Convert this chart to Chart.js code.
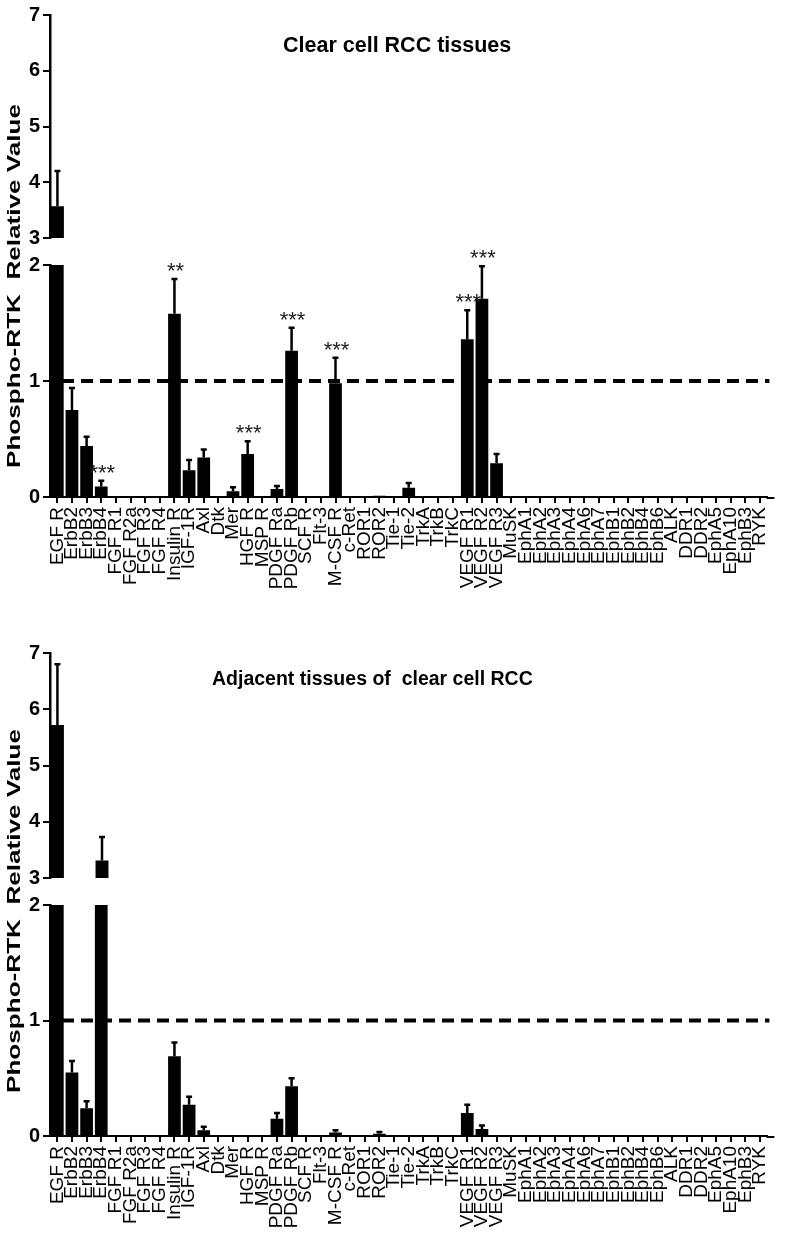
<!DOCTYPE html>
<html>
<head>
<meta charset="utf-8">
<script src="https://cdn.jsdelivr.net/npm/chart.js@4.4.1/dist/chart.umd.min.js"></script>
<style>
  html, body { margin: 0; padding: 0; background: #fff; }
  #page { position: relative; width: 787px; height: 1238px; overflow: hidden; }
  canvas { position: absolute; left: 0; }
  .title { position: absolute; font-family: 'Liberation Sans', Arial, sans-serif; font-weight: bold; color: #000; white-space: nowrap; line-height: 22px; }
  .ytitle { position: absolute; font: bold 18px 'Liberation Sans', Arial, sans-serif; color: #000; white-space: nowrap; line-height: 18px;
            transform: translate(-50%, -50%) rotate(-90deg) scaleX(1.45); }
</style>
</head>
<body>
<div id="page">
  <canvas id="c1top" width="787" height="253" style="top:0px"></canvas>
  <canvas id="c1bot" width="787" height="360" style="top:250px"></canvas>
  <canvas id="c2top" width="787" height="255" style="top:638px"></canvas>
  <canvas id="c2bot" width="787" height="348" style="top:890px"></canvas>
  <div class="title" style="left:283px; top:34px; font-size:21.5px;">Clear cell RCC tissues</div>
  <div class="title" style="left:212px; top:667px; font-size:19.5px;">Adjacent tissues of &nbsp;clear cell RCC</div>
  <div class="ytitle" style="left:14px; top:286px;">Phospho-RTK &nbsp;Relative Value</div>
  <div class="ytitle" style="left:14px; top:911px;">Phospho-RTK &nbsp;Relative Value</div>
</div>
<script>
// receptor names along the x axis
const receptors = [
  'EGF R', 'ErbB2', 'ErbB3', 'ErbB4', 'FGF R1', 'FGF R2a', 'FGF R3', 'FGF R4',
  'Insulin R', 'IGF-1R', 'Axl', 'Dtk', 'Mer', 'HGF R', 'MSP R', 'PDGF Ra',
  'PDGF Rb', 'SCF R', 'Flt-3', 'M-CSF R', 'c-Ret', 'ROR1', 'ROR2', 'Tie-1',
  'Tie-2', 'TrkA', 'TrkB', 'TrkC', 'VEGF R1', 'VEGF R2', 'VEGF R3', 'MuSK',
  'EphA1', 'EphA2', 'EphA3', 'EphA4', 'EphA6', 'EphA7', 'EphB1', 'EphB2',
  'EphB4', 'EphB6', 'ALK', 'DDR1', 'DDR2', 'EphA5', 'EphA10', 'EphB3', 'RYK'
];

// clear cell RCC tissues
const rccValues = [
  3.57, 0.75, 0.44, 0.09, 0, 0, 0, 0,
  1.58, 0.23, 0.34, 0, 0.05, 0.37, 0, 0.07,
  1.26, 0, 0, 0.98, 0, 0, 0.01, 0,
  0.08, 0, 0, 0, 1.36, 1.71, 0.29, 0,
  0, 0, 0, 0, 0, 0, 0, 0,
  0, 0, 0, 0, 0, 0, 0, 0, 0
];
const rccErrors = [
  0.63, 0.19, 0.08, 0.05, 0, 0, 0, 0,
  0.30, 0.09, 0.07, 0, 0.035, 0.11, 0, 0.025,
  0.20, 0, 0, 0.22, 0, 0, 0, 0,
  0.04, 0, 0, 0, 0.25, 0.28, 0.08, 0,
  0, 0, 0, 0, 0, 0, 0, 0,
  0, 0, 0, 0, 0, 0, 0, 0, 0
];
const rccStars = [
  '', '', '', '***', '', '', '', '',
  '**', '', '', '', '', '***', '', '',
  '***', '', '', '***', '', '', '', '',
  '', '', '', '', '***', '***', '', '',
  '', '', '', '', '', '', '', '',
  '', '', '', '', '', '', '', '', ''
];

// adjacent tissues
const adjValues = [
  5.72, 0.55, 0.24, 3.31, 0, 0, 0, 0,
  0.69, 0.27, 0.05, 0, 0, 0, 0, 0.15,
  0.43, 0, 0, 0.03, 0, 0, 0.02, 0,
  0, 0, 0, 0, 0.20, 0.06, 0, 0,
  0, 0, 0, 0, 0, 0, 0, 0,
  0, 0, 0, 0, 0, 0, 0, 0, 0
];
const adjErrors = [
  1.08, 0.10, 0.06, 0.42, 0, 0, 0, 0,
  0.12, 0.07, 0.03, 0, 0, 0, 0, 0.05,
  0.07, 0, 0, 0.02, 0, 0, 0.015, 0,
  0, 0, 0, 0, 0.07, 0.03, 0, 0,
  0, 0, 0, 0, 0, 0, 0, 0,
  0, 0, 0, 0, 0, 0, 0, 0, 0
];

// broken y axis: upper and lower segments
const upperRange = [3, 7];
const lowerRange = [0, 2];
const refLevel = 1;

Chart.defaults.font.family = "'Liberation Sans', Arial, sans-serif";
Chart.defaults.color = '#000';

// error bars, significance stars, reference line
const errBarPlugin = {
  id: 'errbars',
  beforeDatasetsDraw(chart, args, opts) {
    if (!opts.refLine) return;
    const { ctx, chartArea } = chart;
    const y = chart.scales.y.getPixelForValue(refLevel);
    ctx.save();
    ctx.strokeStyle = '#000';
    ctx.lineWidth = 4;
    ctx.setLineDash([12, 7]);
    ctx.beginPath();
    ctx.moveTo(chartArea.left + 12, y);
    ctx.lineTo(chartArea.right + 2, y);
    ctx.stroke();
    ctx.restore();
  },
  afterDatasetsDraw(chart, args, opts) {
    const { ctx, chartArea } = chart;
    const xs = chart.scales.x, ys = chart.scales.y;
    const vals = chart.data.datasets[0].data;
    ctx.save();
    ctx.beginPath();
    ctx.rect(chartArea.left, chartArea.top - 30, chartArea.right - chartArea.left + 10, chartArea.bottom - chartArea.top + 30);
    ctx.clip();
    ctx.strokeStyle = '#000';
    ctx.lineWidth = 2.5;
    vals.forEach((v, i) => {
      const e = opts.errors[i];
      const x = xs.getPixelForValue(i);
      if (e > 0) {
        const y0 = ys.getPixelForValue(v);
        const y1 = ys.getPixelForValue(v + e);
        ctx.beginPath();
        ctx.moveTo(x, y0);
        ctx.lineTo(x, y1);
        ctx.moveTo(x - 3, y1);
        ctx.lineTo(x + 3, y1);
        ctx.stroke();
      }
      const s = opts.stars && opts.stars[i];
      if (s) {
        const yTop = ys.getPixelForValue(v + e);
        ctx.fillStyle = '#222';
        ctx.font = '22px ' + Chart.defaults.font.family;
        ctx.textAlign = 'center';
        ctx.textBaseline = 'alphabetic';
        ctx.fillText(s, x + 1, yTop - 1);
      }
    });
    ctx.restore();
  },
  afterDraw(chart, args, opts) {
    if (!opts.axisExtend) return;
    const { ctx, chartArea } = chart;
    ctx.save();
    ctx.strokeStyle = '#000';
    ctx.lineWidth = 2;
    ctx.beginPath();
    ctx.moveTo(chartArea.right - 1, chartArea.bottom + 1);
    ctx.lineTo(chartArea.right + 7, chartArea.bottom + 1);
    ctx.stroke();
    ctx.restore();
  }
};

function makeSegment(id, values, errors, stars, range, isLower, pad, xHeight) {
  return new Chart(document.getElementById(id), {
    type: 'bar',
    data: {
      labels: receptors,
      datasets: [{
        data: values,
        backgroundColor: '#000',
        borderWidth: 0,
        barPercentage: 0.87,
        categoryPercentage: 1.0
      }]
    },
    plugins: [errBarPlugin],
    options: {
      responsive: false,
      animation: false,
      layout: { padding: { top: pad.top, bottom: pad.bottom, left: 0, right: 9 } },
      plugins: {
        legend: { display: false },
        tooltip: { enabled: false },
        errbars: { errors: errors, stars: stars, refLine: isLower, axisExtend: isLower }
      },
      scales: {
        x: {
          display: isLower,
          offset: true,
          grid: { offset: false, drawOnChartArea: false, tickLength: 6, color: '#000', lineWidth: 2 },
          border: { color: '#000', width: 2 },
          ticks: {
            autoSkip: false,
            maxRotation: 90,
            minRotation: 90,
            padding: 4,
            font: { size: 19 },
            color: '#000'
          },
          afterFit(scale) { scale.height = xHeight; }
        },
        y: {
          min: range[0],
          max: range[1],
          grid: { drawOnChartArea: false, tickLength: 7, color: '#000', lineWidth: 2 },
          border: { color: '#000', width: 2.5 },
          ticks: { stepSize: 1, padding: 3, font: { size: 20, weight: 'bold' }, color: '#000' },
          afterFit(scale) { scale.width = 50; }
        }
      }
    }
  });
}

makeSegment('c1top', rccValues, rccErrors, rccStars, upperRange, false, { top: 10, bottom: 10 }, 0);
makeSegment('c1bot', rccValues, rccErrors, rccStars, lowerRange, true, { top: 13, bottom: 0 }, 113);
makeSegment('c2top', adjValues, adjErrors, null, upperRange, false, { top: 10, bottom: 10 }, 0);
makeSegment('c2bot', adjValues, adjErrors, null, lowerRange, true, { top: 13, bottom: 0 }, 102);
</script>
</body>
</html>
